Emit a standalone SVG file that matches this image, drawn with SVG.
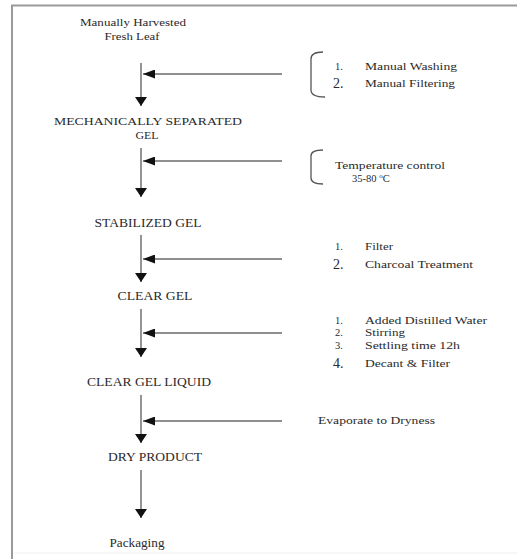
<svg xmlns="http://www.w3.org/2000/svg" width="517" height="559" viewBox="0 0 517 559">
<style>
text{font-family:"Liberation Serif","Times New Roman",serif;fill:#2a2a2a}
.n{font-size:12px;text-anchor:middle}
.n2{font-size:11px;text-anchor:middle}
.r{font-size:10.5px}
.big{font-size:14px}
.frame{stroke:#9a9a9a;stroke-width:2;fill:none}
.v{stroke:#7a7a7a;stroke-width:1.6;fill:none}
.h{stroke:#6a6a6a;stroke-width:1.4;fill:none}
.br{stroke:#555;stroke-width:1.3;fill:none}
</style>
<defs>
<marker id="down" markerWidth="12" markerHeight="9" refX="6" refY="9" markerUnits="userSpaceOnUse" viewBox="0 0 12 9"><path d="M0,0 L12,0 L6,9 Z" fill="#111"/></marker>
<marker id="left" markerWidth="12" markerHeight="9" refX="0" refY="4.5" markerUnits="userSpaceOnUse" viewBox="0 0 12 9"><path d="M0,4.5 L12,0 L12,9 Z" fill="#111"/></marker>
</defs>
<rect width="517" height="559" fill="#fff"/>
<path class="frame" d="M12,559 L12,5.5 L517,5.5"/>
<path d="M14,553 L517,553" stroke="#eee" stroke-width="1" fill="none"/>

<g id="connectors">
<path class="v" d="M141,63 L141,106" marker-end="url(#down)"/>
<path class="h" d="M282,74 L143,74" marker-end="url(#left)"/>
<path class="v" d="M141,148 L141,197" marker-end="url(#down)"/>
<path class="h" d="M282,161 L143,161" marker-end="url(#left)"/>
<path class="v" d="M141,235 L141,282" marker-end="url(#down)"/>
<path class="h" d="M282,259 L143,259" marker-end="url(#left)"/>
<path class="v" d="M141,309 L141,357" marker-end="url(#down)"/>
<path class="h" d="M282,333 L143,333" marker-end="url(#left)"/>
<path class="v" d="M141,395 L141,443" marker-end="url(#down)"/>
<path class="h" d="M282,421 L143,421" marker-end="url(#left)"/>
<path class="v" d="M141,470 L141,518" marker-end="url(#down)"/>
</g>

<g id="n-leaf">
<text class="n2" x="133" y="26" textLength="106" lengthAdjust="spacingAndGlyphs">Manually Harvested</text>
<text class="n2" x="132" y="40" textLength="55" lengthAdjust="spacingAndGlyphs">Fresh Leaf</text>
</g>
<g id="n-mech">
<text class="n2" x="148" y="125" textLength="188" lengthAdjust="spacingAndGlyphs">MECHANICALLY SEPARATED</text>
<text class="n2" x="147" y="139" textLength="23" lengthAdjust="spacingAndGlyphs">GEL</text>
</g>
<g id="n-stab"><text class="n" x="148" y="227" textLength="107" lengthAdjust="spacingAndGlyphs">STABILIZED GEL</text></g>
<g id="n-clear"><text class="n" x="155" y="300" textLength="75" lengthAdjust="spacingAndGlyphs">CLEAR GEL</text></g>
<g id="n-liquid"><text class="n" x="149" y="386" textLength="124" lengthAdjust="spacingAndGlyphs">CLEAR GEL LIQUID</text></g>
<g id="n-dry"><text class="n" x="155" y="461" textLength="94" lengthAdjust="spacingAndGlyphs">DRY PRODUCT</text></g>
<g id="n-pack"><text class="n" x="137" y="547" textLength="55" lengthAdjust="spacingAndGlyphs">Packaging</text></g>

<g id="s-wash">
<path class="br" d="M323,52 Q311,52 311,59 L311,90 Q311,97 325,97"/>
<text class="r" x="335" y="70">1.</text>
<text class="r" x="365" y="70" textLength="92" lengthAdjust="spacingAndGlyphs">Manual Washing</text>
<text class="big" x="333" y="88">2.</text>
<text class="r" x="365" y="87" textLength="90" lengthAdjust="spacingAndGlyphs">Manual Filtering</text>
</g>
<g id="s-temp">
<path class="br" d="M323,150 Q311,150 311,156 L311,178 Q311,184 323,184"/>
<text class="r" x="335" y="169" textLength="110" lengthAdjust="spacingAndGlyphs">Temperature control</text>
<text class="r" x="352" y="182">35-80  <tspan font-size="7" dy="-4">o</tspan><tspan dy="4">C</tspan></text>
</g>
<g id="s-filter">
<text class="r" x="335" y="250">1.</text>
<text class="r" x="365" y="250" textLength="28" lengthAdjust="spacingAndGlyphs">Filter</text>
<text class="big" x="333" y="269">2.</text>
<text class="r" x="365" y="268" textLength="108" lengthAdjust="spacingAndGlyphs">Charcoal Treatment</text>
</g>
<g id="s-water">
<text class="r" x="335" y="324">1.</text>
<text class="r" x="365" y="324" textLength="122" lengthAdjust="spacingAndGlyphs">Added Distilled Water</text>
<text class="r" x="335" y="336">2.</text>
<text class="r" x="365" y="336" textLength="40" lengthAdjust="spacingAndGlyphs">Stirring</text>
<text class="r" x="335" y="349">3.</text>
<text class="r" x="365" y="349" textLength="95" lengthAdjust="spacingAndGlyphs">Settling time 12h</text>
<text class="big" x="333" y="368">4.</text>
<text class="r" x="365" y="367" textLength="85" lengthAdjust="spacingAndGlyphs">Decant &amp; Filter</text>
</g>
<g id="s-evap">
<text class="r" x="318" y="424" textLength="117" lengthAdjust="spacingAndGlyphs">Evaporate to Dryness</text>
</g>
</svg>
